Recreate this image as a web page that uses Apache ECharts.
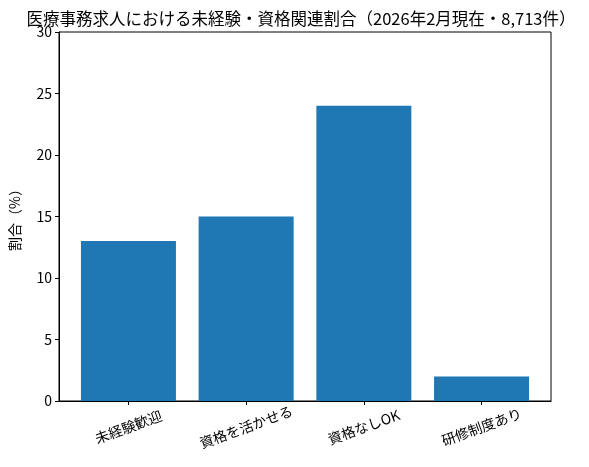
<!DOCTYPE html>
<html lang="ja">
<head>
<meta charset="UTF-8">
<title>ECharts</title>
<script src="https://cdn.jsdelivr.net/npm/echarts@6/dist/echarts.min.js"></script>
<style>
  *{margin:0;padding:0}
  html,body{width:100%;height:100%;background:#fff}
  #main{width:589px;height:467px}
</style>
</head>
<body>
<div id="main"></div>
<script>
var categories = ['未経験歓迎', '資格を活かせる', '資格なしOK', '研修制度あり'];
var values = [13, 15, 24, 2];
var xTicks = [0, 1, 2, 3];
var yTicks = [0, 5, 10, 15, 20, 25, 30];

var font = '"Noto Sans CJK JP", "Noto Sans", sans-serif';
var chart = echarts.init(document.getElementById('main'));

var option = {
    animation: false,
    textStyle: { fontFamily: font },
    title: {
        text: '医療事務求人における未経験・資格関連割合（2026年2月現在・8,713件）',
        left: 296,
        textAlign: 'center',
        top: 5,
        textStyle: { fontFamily: font, fontSize: 16.5, fontWeight: 'normal', color: '#000' }
    },
    grid: {
        left: 54, right: 38, top: 32, bottom: 66,
        show: true, borderColor: '#000', borderWidth: 1
    },
    // value axis so the bar spacing matches the reference's margins
    xAxis: {
        type: 'value',
        min: -0.59,
        max: 3.59,
        splitLine: { show: false },
        axisLine: { show: true, onZero: false, lineStyle: { color: '#000' } },
        axisTick: { show: true, length: 4, lineStyle: { color: '#000' }, customValues: xTicks },
        axisLabel: {
            customValues: xTicks,
            rotate: 20,
            align: 'center',
            verticalAlign: 'middle',
            margin: 26,
            fontSize: 14,
            color: '#000',
            fontFamily: font,
            formatter: function (v) { return categories[Math.round(v)]; }
        }
    },
    yAxis: {
        type: 'value',
        min: 0,
        max: 30,
        interval: 5,
        name: '割合（%）',
        nameLocation: 'middle',
        nameGap: 37,
        nameRotate: 90,
        nameTextStyle: { fontSize: 14, color: '#000', fontFamily: font },
        splitLine: { show: false },
        axisLine: { show: true, onZero: false, lineStyle: { color: '#000' } },
        axisTick: { show: true, length: 4, lineStyle: { color: '#000' } },
        axisLabel: {
            fontSize: 14, color: '#000', margin: 7, fontFamily: font,
            customValues: yTicks
        }
    },
    series: [{
        type: 'bar',
        barWidth: 95,
        itemStyle: { color: '#1f77b4' },
        data: values.map(function (v, i) { return [i, v]; })
    }]
};
chart.setOption(option);
</script>
</body>
</html>
